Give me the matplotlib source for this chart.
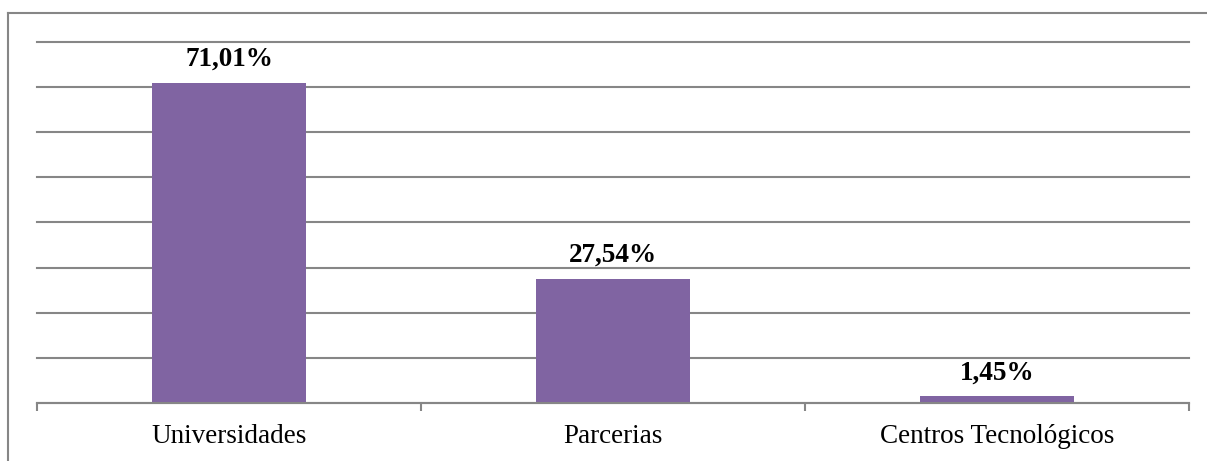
import matplotlib
matplotlib.use("Agg")
import matplotlib.pyplot as plt
from matplotlib.lines import Line2D

categories = ["Universidades", "Parcerias", "Centros Tecnológicos"]
values = [71.01, 27.54, 1.45]

W, H = 1207, 461
plt.rcParams['font.family'] = ['Liberation Serif', 'DejaVu Serif']
fig = plt.figure(figsize=(W / 100, H / 100), dpi=100)
ax = fig.add_axes([37 / W, 58 / H, (1189 - 37) / W, (403 - 42) / H])

grid_c = "#868686"
bar_c = "#8064A2"

x = list(range(len(categories)))
ax.bar(x, values, width=0.4, color=bar_c, zorder=3)
ax.set_xlim(-0.5, len(categories) - 0.5)
ax.set_ylim(0, 80)
ax.set_yticks(range(0, 81, 10))
ax.yaxis.grid(True, color=grid_c, linewidth=1.5, zorder=0)
for gl in ax.get_ygridlines():
    gl.set_clip_on(False)
ax.tick_params(axis='y', left=False, labelleft=False)
for s in ["top", "right", "left"]:
    ax.spines[s].set_visible(False)
ax.spines["bottom"].set_color(grid_c)
ax.spines["bottom"].set_linewidth(1.5)
ax.spines["bottom"].set_zorder(4)

ax.set_xticks([i - 0.5 for i in range(len(categories) + 1)], minor=False)
ax.set_xticklabels([])
ax.tick_params(axis='x', which='major', length=6, width=1.5, color=grid_c)
ax.set_xticks(x, minor=True)
ax.set_xticklabels(categories, minor=True, fontsize=19.5, color="#000000")
ax.tick_params(axis='x', which='minor', length=0, pad=15)

for xi, v in zip(x, values):
    ax.annotate(f"{v:.2f}".replace(".", ",") + "%", (xi, v), xytext=(0, 12),
                textcoords="offset points", ha="center", va="baseline",
                fontsize=19.5, fontweight="bold", color="#000000")

fig.add_artist(Line2D([8 / W, 1], [1 - 13 / H, 1 - 13 / H], transform=fig.transFigure,
                      color=grid_c, linewidth=1.5))
fig.add_artist(Line2D([8 / W, 8 / W], [0, 1 - 13 / H], transform=fig.transFigure,
                      color=grid_c, linewidth=1.5))

fig.savefig("out.png", dpi=100)
